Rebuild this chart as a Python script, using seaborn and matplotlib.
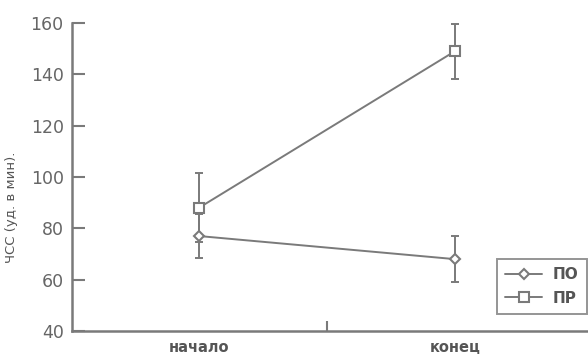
import matplotlib
matplotlib.use("Agg")
import matplotlib.pyplot as plt
import seaborn as sns
import pandas as pd

# Heart rate at the start and end of the session, two groups
stages = ["начало", "конец"]
po_mean = [77, 68]
po_err = [8.5, 9]
pr_mean = [88, 149]
pr_err = [13.5, 10.7]
y_ticks = [40, 60, 80, 100, 120, 140, 160]

sns.set_style("white")
plt.rcParams["font.family"] = ["DejaVu Sans"]

line_col = "#7a7a7a"
text_col = "#555555"

fig = plt.figure(figsize=(5.88, 3.54), dpi=100)
ax = fig.add_axes([72 / 588, 23 / 354, (588 - 72) / 588, (331 - 23) / 354])

pos = list(range(len(stages)))
df = pd.concat([
    pd.DataFrame({"x": pos, "y": po_mean, "group": "ПО"}),
    pd.DataFrame({"x": pos, "y": pr_mean, "group": "ПР"}),
])

for mean, err in ((po_mean, po_err), (pr_mean, pr_err)):
    ax.errorbar(pos, mean, yerr=err, fmt="none", ecolor=line_col,
                elinewidth=1.4, capsize=3.2, capthick=1.4, zorder=2)

sns.lineplot(data=df, x="x", y="y", hue="group", style="group",
             markers={"ПО": "D", "ПР": "s"}, dashes=False,
             palette={"ПО": line_col, "ПР": line_col},
             markersize=7, markerfacecolor="white", markeredgecolor=line_col,
             markeredgewidth=1.5, linewidth=1.4, ax=ax, zorder=3)
for ln in ax.lines:
    if ln.get_marker() == "D":
        ln.set_markersize(5.5)

ax.set_xlim(-0.496, 1.52)
ax.set_ylim(40, 160)
ax.set_yticks(y_ticks)
ax.set_yticklabels([str(v) for v in y_ticks], color="#666666", fontsize=12.5)
ax.set_xticks([0.5])
ax.set_xticklabels([""])
for i, s in enumerate(stages):
    ax.text(i, -0.052, s, transform=ax.get_xaxis_transform(), ha="center",
            va="center", fontsize=10.5, fontweight="bold", color=text_col)

ax.tick_params(axis="y", left=True, direction="in", length=9.5, width=1.5,
               color=line_col, pad=6)
ax.tick_params(axis="x", bottom=True, direction="in", length=7.5, width=1.5,
               color=line_col)
ax.set_xlabel("")
ax.set_ylabel("ЧСС (уд. в мин).", fontsize=9.5, color=text_col)
ax.yaxis.set_label_coords(-0.105, 0.40)

for side in ("top", "right"):
    ax.spines[side].set_visible(False)
for side in ("left", "bottom"):
    ax.spines[side].set_color(line_col)
    ax.spines[side].set_linewidth(1.8)

handles, labels = ax.get_legend_handles_labels()
leg = ax.legend(handles, labels, loc="lower right",
                bbox_to_anchor=(587 / 588, 40 / 354), bbox_transform=fig.transFigure,
                frameon=True, fancybox=False, borderaxespad=0, handlelength=2.4,
                borderpad=0.55, handletextpad=0.7, labelspacing=0.55,
                prop={"weight": "bold", "size": 11})
leg.get_frame().set_edgecolor(line_col)
leg.get_frame().set_linewidth(1.4)
for t in leg.get_texts():
    t.set_color(text_col)

fig.savefig("out.png", dpi=100)
